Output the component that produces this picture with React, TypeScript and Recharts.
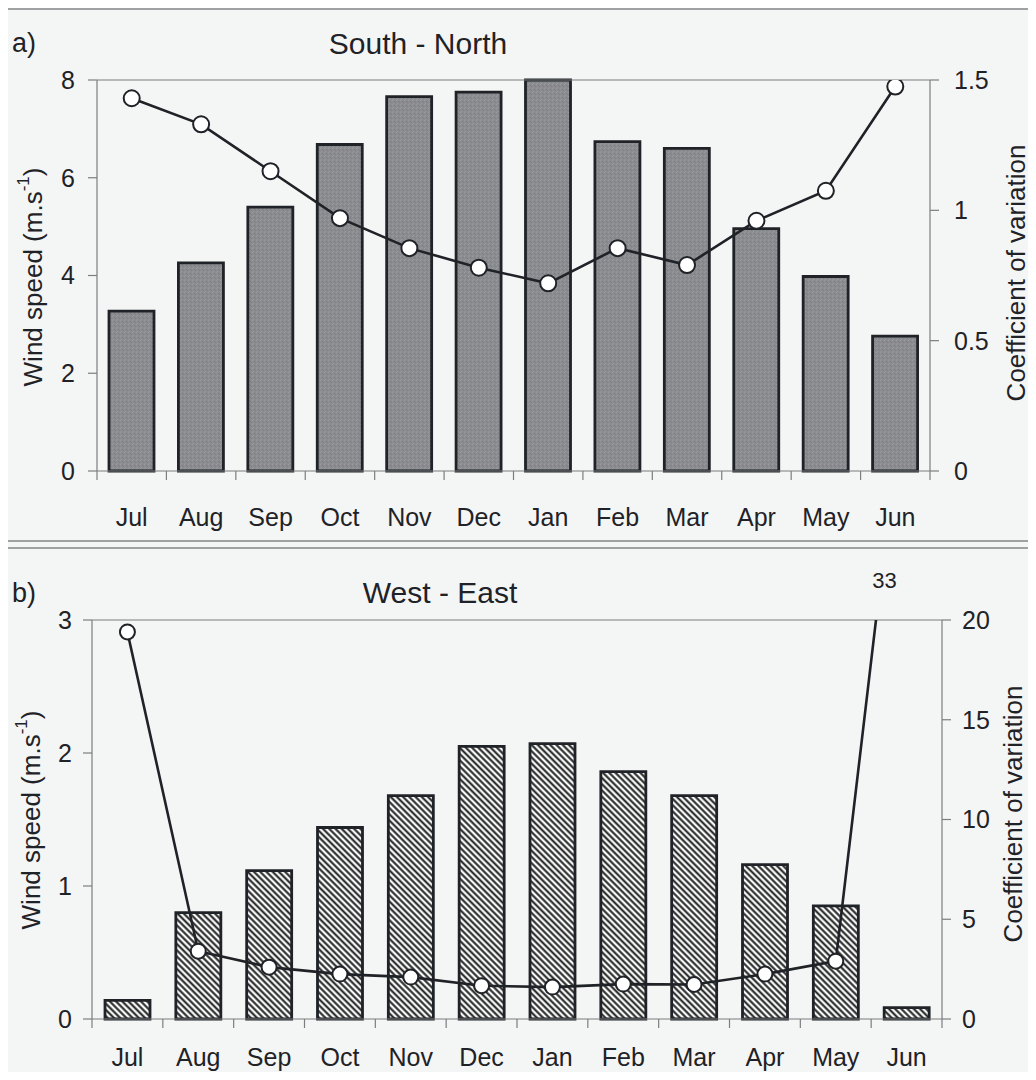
import { ComposedChart, Bar, Line, XAxis, YAxis, ReferenceLine, LabelList } from 'recharts';

const months = ['Jul', 'Aug', 'Sep', 'Oct', 'Nov', 'Dec', 'Jan', 'Feb', 'Mar', 'Apr', 'May', 'Jun'];

// a) South - North component
const snSpeed = [3.27, 4.26, 5.4, 6.68, 7.66, 7.75, 8.0, 6.74, 6.6, 4.96, 3.98, 2.76];
const snCv = [1.43, 1.33, 1.15, 0.97, 0.855, 0.78, 0.72, 0.855, 0.79, 0.96, 1.075, 1.475];
const snSpeedTicks = [0, 2, 4, 6, 8];
const snCvTicks = [0, 0.5, 1, 1.5];

// b) West - East component
const weSpeed = [0.14, 0.8, 1.115, 1.44, 1.68, 2.05, 2.07, 1.86, 1.68, 1.16, 0.85, 0.085];
const weCv = [19.4, 3.4, 2.6, 2.25, 2.1, 1.67, 1.6, 1.75, 1.73, 2.25, 2.9, 33];
const weSpeedTicks = [0, 1, 2, 3];
const weCvTicks = [0, 5, 10, 15, 20];

const snData = months.map((month, i) => ({ month, speed: snSpeed[i], cv: snCv[i] }));
const weData = months.map((month, i) => ({ month, speed: weSpeed[i], cv: weCv[i] }));

const FONT = '"Liberation Sans", Arial, Helvetica, sans-serif';
const INK = '#1f2226';
const AXIS = '#7b7d7f';
const PAPER = '#f4f6f5';
const W = 1036;
const H = 540;

type Plot = { left: number; right: number; top: number; bottom: number };

const monthTick = (plot: Plot, labelGap: number) => (props: any) => {
  const { x, index, payload } = props;
  const half = (plot.right - plot.left) / months.length / 2;
  const y0 = plot.bottom;
  return (
    <g>
      <line x1={x - half} x2={x - half} y1={y0} y2={y0 + 9} stroke={AXIS} strokeWidth={1.2} />
      {index === months.length - 1 && (
        <line x1={x + half} x2={x + half} y1={y0} y2={y0 + 9} stroke={AXIS} strokeWidth={1.2} />
      )}
      <text x={x} y={y0 + labelGap} textAnchor="middle" dominantBaseline="central"
        fontSize={25} fill={INK} fontFamily={FONT}>{payload.value}</text>
    </g>
  );
};

type PanelProps = {
  data: any[];
  plot: Plot;
  speedTicks: number[];
  cvTicks: number[];
  barFill: string;
  leftGap: number;
  rightGap: number;
  labelGap: number;
  dotR: number;
};

function Panel({ data, plot, speedTicks, cvTicks, barFill, leftGap, rightGap, labelGap, dotR }: PanelProps) {
  const speedMax = speedTicks[speedTicks.length - 1];
  const cvMax = cvTicks[cvTicks.length - 1];
  const tickStyle = { fontSize: 25, fill: INK, fontFamily: FONT };

  // value beyond the right axis: print it above the plot where the line leaves it
  const overflowLabel = (props: any) => {
    const { x, value } = props;
    if (value <= cvMax) return null;
    return (
      <text x={x - 22} y={plot.top - 40} textAnchor="middle" dominantBaseline="central"
        fontSize={22} fill={INK} fontFamily={FONT}>{value}</text>
    );
  };

  return (
    <ComposedChart width={W} height={H} data={data}
      margin={{ top: plot.top, right: 0, bottom: H - plot.bottom - 60, left: 0 }}>
      <defs>
        <pattern id="speckle" patternUnits="userSpaceOnUse" width={4} height={4}>
          <rect width={4} height={4} fill="#8a8c90" />
          <rect x={0} y={0} width={1} height={1} fill="#9a9ca0" />
          <rect x={2} y={1} width={1} height={1} fill="#7c7e82" />
          <rect x={1} y={3} width={1} height={1} fill="#979a9d" />
          <rect x={3} y={2} width={1} height={1} fill="#808286" />
        </pattern>
        <pattern id="hatch" patternUnits="userSpaceOnUse" width={4.4} height={4.4}
          patternTransform="rotate(45)">
          <rect width={4.4} height={4.4} fill="#f7f8f8" />
          <line x1={0} x2={4.4} y1={2.2} y2={2.2} stroke="#1f1f1f" strokeWidth={2} />
        </pattern>
      </defs>
      <XAxis dataKey="month" interval={0} height={60} tickLine={false}
        axisLine={{ stroke: AXIS, strokeWidth: 1.2 }} tick={monthTick(plot, labelGap)} />
      <YAxis yAxisId="ws" orientation="left" width={plot.left} domain={[0, speedMax]}
        ticks={speedTicks} interval={0} tickSize={9} tickMargin={leftGap}
        axisLine={{ stroke: AXIS, strokeWidth: 1.2 }} tickLine={{ stroke: AXIS, strokeWidth: 1.2 }}
        tick={tickStyle} />
      <YAxis yAxisId="cv" orientation="right" width={W - plot.right} domain={[0, cvMax]}
        allowDataOverflow ticks={cvTicks} interval={0} tickSize={9} tickMargin={rightGap}
        axisLine={{ stroke: AXIS, strokeWidth: 1.2 }} tickLine={{ stroke: AXIS, strokeWidth: 1.2 }}
        tick={tickStyle} />
      <ReferenceLine yAxisId="ws" y={speedMax} stroke={AXIS} strokeWidth={1.2} />
      <Bar yAxisId="ws" dataKey="speed" fill={barFill} stroke={INK} strokeWidth={2.8}
        barSize={45} isAnimationActive={false} />
      <Line yAxisId="cv" dataKey="cv" type="linear" stroke={INK} strokeWidth={2.6}
        dot={{ r: dotR, fill: '#ffffff', stroke: INK, strokeWidth: 2 }}
        activeDot={false} isAnimationActive={false}>
        <LabelList dataKey="cv" content={overflowLabel} />
      </Line>
    </ComposedChart>
  );
}

const SpeedTitle = ({ x, y }: { x: number; y: number }) => (
  <text x={x} y={y} transform={`rotate(-90 ${x} ${y})`} textAnchor="middle" dominantBaseline="central"
    fontSize={26} fill={INK} fontFamily={FONT}>
    Wind speed (m.s<tspan fontSize={17} dy={-10}>-1</tspan><tspan dy={10}>)</tspan>
  </text>
);

const CvTitle = ({ x, y }: { x: number; y: number }) => (
  <text x={x} y={y} transform={`rotate(-90 ${x} ${y})`} textAnchor="middle" dominantBaseline="central"
    fontSize={26} fill={INK} fontFamily={FONT}>Coefficient of variation</text>
);

export default function App() {
  return (
    <div style={{ position: 'relative', width: W, height: 1080, margin: -8, overflow: 'hidden', background: PAPER }}>
      {/* panel frames run off the page on the right and bottom */}
      <div style={{ position: 'absolute', left: 6, top: 8, width: 1100, height: 530, border: '2px solid #9fa1a2' }} />
      <div style={{ position: 'absolute', left: 4, top: 547, width: 1100, height: 600, border: '2px solid #9fa1a2' }} />

      <div style={{ position: 'absolute', left: 0, top: 0 }}>
        <Panel data={snData} plot={{ left: 97, right: 930, top: 80, bottom: 471 }}
          speedTicks={snSpeedTicks} cvTicks={snCvTicks} barFill="url(#speckle)"
          leftGap={13} rightGap={15} labelGap={46} dotR={8} />
      </div>
      <div style={{ position: 'absolute', left: 0, top: 540 }}>
        <Panel data={weData} plot={{ left: 92, right: 942, top: 80, bottom: 479 }}
          speedTicks={weSpeedTicks} cvTicks={weCvTicks} barFill="url(#hatch)"
          leftGap={11} rightGap={11} labelGap={38} dotR={7.5} />
      </div>

      <svg width={W} height={1080} style={{ position: 'absolute', left: 0, top: 0, pointerEvents: 'none' }}>
        <text x={12} y={43} dominantBaseline="central" fontSize={27} fill={INK} fontFamily={FONT}>a)</text>
        <text x={418} y={43} textAnchor="middle" dominantBaseline="central" fontSize={30} fill={INK} fontFamily={FONT}>South - North</text>
        <SpeedTitle x={33} y={277} />
        <CvTitle x={1016} y={273} />

        <text x={12} y={593} dominantBaseline="central" fontSize={27} fill={INK} fontFamily={FONT}>b)</text>
        <text x={440} y={592} textAnchor="middle" dominantBaseline="central" fontSize={30} fill={INK} fontFamily={FONT}>West - East</text>
        <SpeedTitle x={31} y={820} />
        <CvTitle x={1013} y={814} />
      </svg>
    </div>
  );
}
